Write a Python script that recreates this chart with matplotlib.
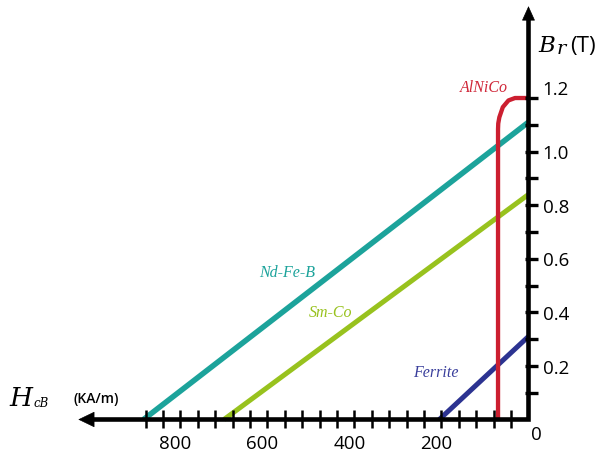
import matplotlib
matplotlib.use("Agg")
import matplotlib.pyplot as plt

# ---------------- data ----------------
ndfeb_H = [885, 0]
ndfeb_B = [0.0, 1.11]
smco_H = [700, 0]
smco_B = [0.0, 0.84]
ferrite_H = [205, 0]
ferrite_B = [0.0, 0.31]
alnico_H = [70, 70, 69.5, 67, 59, 46, 31, 0]
alnico_B = [0.0, 1.084, 1.105, 1.128, 1.166, 1.191, 1.2, 1.2]

x_ticks = [40, 80, 120, 160, 200, 240, 280, 320, 360, 400, 440,
           480, 520, 560, 600, 640, 680, 720, 760, 800, 840, 880]
x_label_values = [800, 600, 400, 200]
x_labels = ["800", "600", "400", "200"]
y_ticks = [0.1, 0.2, 0.3, 0.4, 0.5, 0.6, 0.7, 0.8, 0.9, 1.0, 1.1, 1.2]
y_label_values = [0.2, 0.4, 0.6, 0.8, 1.0, 1.2]
y_labels = ["0.2", "0.4", "0.6", "0.8", "1.0", "1.2"]

series_names = ["Nd-Fe-B", "Sm-Co", "Ferrite", "AlNiCo"]

# ---------------- style ----------------
TEAL = "#1ca39b"
GREEN = "#98c21e"
NAVY = "#2c3391"
RED = "#cc1f30"
SANS = ["Open Sans", "DejaVu Sans"]
SERIF = ["Liberation Serif", "DejaVu Serif"]
TSERIF = ["DejaVu Serif"]

fig = plt.figure(figsize=(6.06, 4.52), dpi=100)
ax = fig.add_axes([0, 0, 1, 1])
ax.set_xlim(1214.9, -178.2)
ax.set_ylim(-0.1176, 1.5696)
ax.axis("off")

# curves
ax.plot(ndfeb_H, ndfeb_B, color=TEAL, lw=4.0, solid_capstyle="butt", zorder=2)
ax.plot(smco_H, smco_B, color=GREEN, lw=3.6, solid_capstyle="butt", zorder=2)
ax.plot(ferrite_H, ferrite_B, color=NAVY, lw=3.6, solid_capstyle="butt", zorder=2)
ax.plot(alnico_H, alnico_B, color=RED, lw=3.1, solid_capstyle="butt",
        solid_joinstyle="round", zorder=2)

# axes (L shape) with arrowheads
H_AXIS_END = 1035
B_AXIS_END = 1.543
ax.plot([1005, 0, 0], [0, 0, 1.50], color="black", lw=3.3,
        solid_joinstyle="miter", solid_capstyle="butt", zorder=4)
ax.annotate("", xy=(H_AXIS_END, 0), xytext=(900, 0),
            arrowprops=dict(arrowstyle="-|>,head_length=1.08,head_width=0.52",
                            lw=0.5, color="black", shrinkA=0, shrinkB=0),
            zorder=5)
ax.annotate("", xy=(0, B_AXIS_END), xytext=(0, 1.3),
            arrowprops=dict(arrowstyle="-|>,head_length=0.95,head_width=0.43",
                            lw=0.5, color="black", shrinkA=0, shrinkB=0),
            zorder=5)

# ticks
ax.plot(x_ticks, [0] * len(x_ticks), ls="none", marker="|", ms=13, mew=1.8,
        color="black", zorder=4)
ax.hlines(y_ticks, xmin=9, xmax=-23, colors="black", lw=2.4, zorder=4)

# tick labels
for v, t in zip(x_label_values, x_labels):
    ax.annotate(t, xy=(v, 0), xytext=(-3.6, -20.6), textcoords="offset points",
                ha="center", va="baseline", fontsize=13.5, family=SANS)
for v, t in zip(y_label_values, y_labels):
    dy = 3.1 if t == "1.2" else -4.75
    ax.annotate(t, xy=(0, v), xytext=(10.3, dy), textcoords="offset points",
                ha="left", va="baseline", fontsize=13.5, family=SANS)
ax.annotate("0", xy=(0, 0), xytext=(5.6, -14), textcoords="offset points",
            ha="center", va="baseline", fontsize=13.5, family=SANS)

# series labels
label_pos = {"Nd-Fe-B": (554, 0.536, TEAL), "Sm-Co": (454, 0.388, GREEN),
             "Ferrite": (213, 0.1635, "#3a3f9c"), "AlNiCo": (102, 1.225, "#d0283a")}
for name in series_names:
    h, b, c = label_pos[name]
    ax.text(h, b, name, color=c, ha="center", va="baseline", fontsize=11.5,
            style="italic", family=SERIF)

# axis titles
W, Hh = 606.0, 452.0
fig.text(538 / W, 1 - 52 / Hh, "B", fontsize=16.5, style="italic", family=TSERIF,
         ha="left", va="baseline")
fig.text(556.5 / W, 1 - 53.5 / Hh, "r", fontsize=14, style="italic", family=TSERIF,
         ha="left", va="baseline")
fig.text(570.5 / W, 1 - 51.7 / Hh, "(T)", fontsize=16, family=SANS,
         ha="left", va="baseline")
fig.text(9 / W, 1 - 406 / Hh, "H", fontsize=19, style="italic", family=TSERIF,
         ha="left", va="baseline")
fig.text(34 / W, 1 - 407.5 / Hh, "cB", fontsize=8.5, style="italic", family=TSERIF,
         ha="left", va="baseline")
fig.text(73 / W, 1 - 403.5 / Hh, "(KA/m)", fontsize=10, weight="semibold",
         family=SANS, ha="left", va="baseline")

fig.savefig("out.png", dpi=100)
